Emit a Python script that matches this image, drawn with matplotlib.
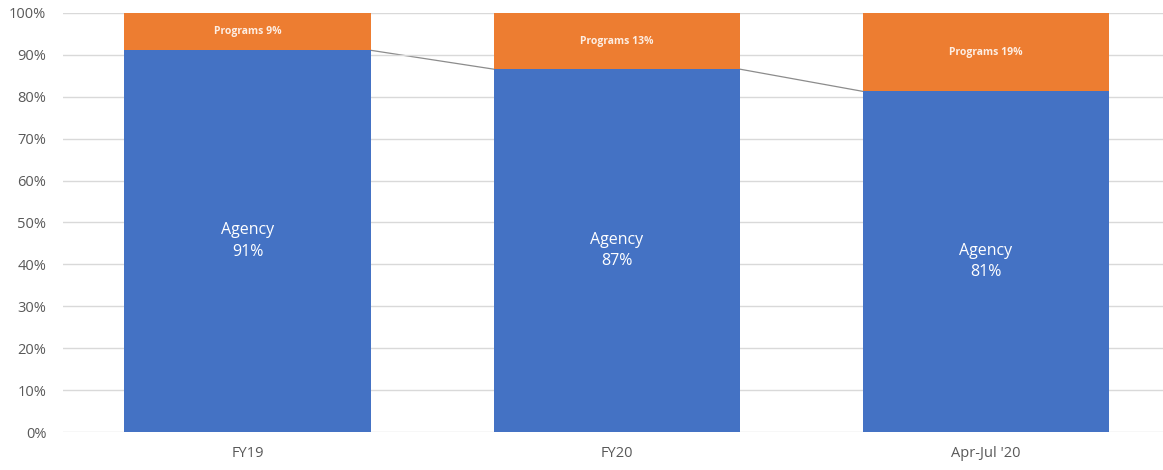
import numpy as np
import matplotlib.pyplot as plt

categories = ['FY19', 'FY20', "Apr-Jul '20"]
agency = [91.1, 86.6, 81.3]
programs = [8.9, 13.4, 18.7]

blue = '#4472C4'
orange = '#ED7D31'
width = 0.667

plt.rcParams['font.family'] = ['Open Sans', 'DejaVu Sans']

fig = plt.figure(figsize=(11.63, 4.70), dpi=100)
ax = fig.add_axes([63/1163, 38/470, 1 - 63/1163, 419/470])

x = np.arange(len(categories))
ax.bar(x, agency, width, color=blue, zorder=2)
ax.bar(x, programs, width, bottom=agency, color=orange, zorder=2)

# series lines between tops of the agency bars
for i in range(len(x) - 1):
    ax.plot([x[i] + width/2, x[i+1] - width/2], [agency[i], agency[i+1]],
            color='#8c8c8c', lw=0.9, zorder=1)

for i in range(len(x)):
    ax.text(x[i], agency[i] / 2, 'Agency\n%d%%' % round(agency[i]), ha='center', va='center',
            color='white', fontsize=11.5, linespacing=1.45, zorder=3)
    ax.text(x[i], agency[i] + programs[i] / 2, 'Programs %d%%' % round(programs[i]),
            ha='center', va='center', color='#fdeee3', fontsize=7.5,
            fontweight='bold', zorder=3)

ax.set_xlim(-0.5, 2.48)
ax.set_ylim(0, 100)
ax.set_yticks(np.arange(0, 101, 10))
ax.set_yticklabels(['%d%%' % v for v in range(0, 101, 10)])
ax.set_xticks(x)
ax.set_xticklabels(categories)
ax.tick_params(length=0, colors='#595959', labelsize=10.5)
ax.tick_params(axis='x', pad=10)
ax.tick_params(axis='y', pad=12)
ax.yaxis.grid(True, color='#d9d9d9', lw=1, zorder=0)
for s in ax.spines.values():
    s.set_visible(False)

fig.savefig('out.png', dpi=100)
